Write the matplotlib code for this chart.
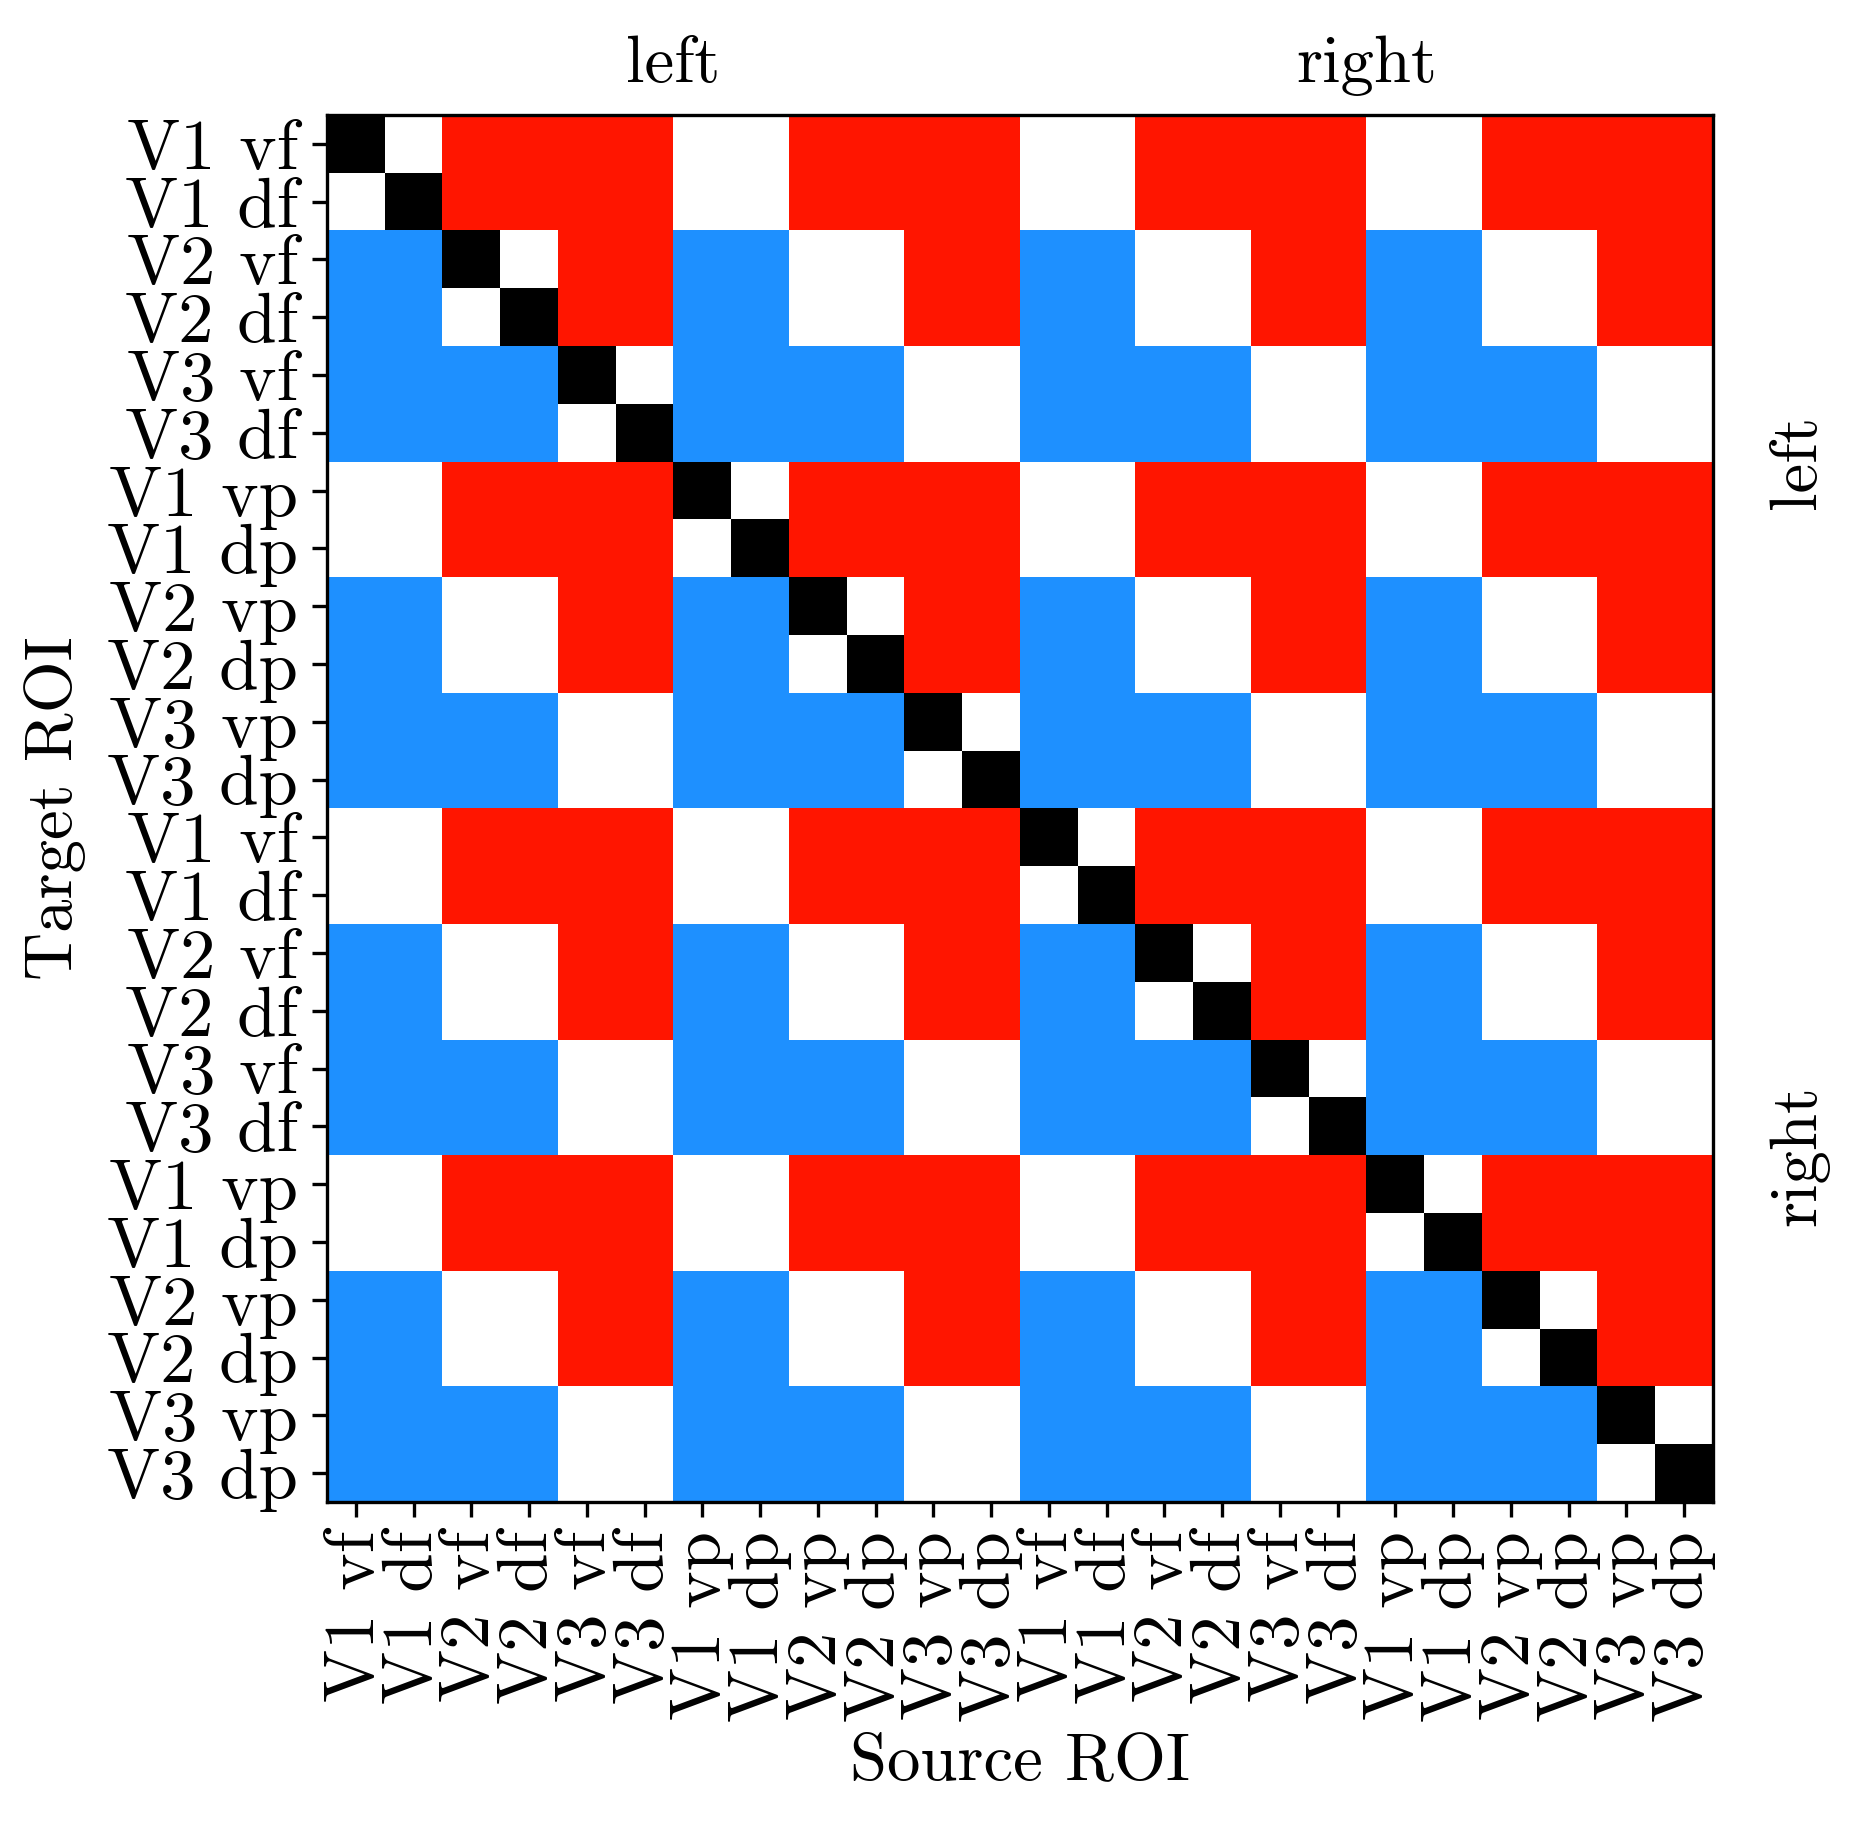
import numpy as np
import matplotlib
matplotlib.use('Agg')
import matplotlib.pyplot as plt
from matplotlib.colors import ListedColormap

plt.rcParams['font.family'] = 'serif'
plt.rcParams['font.serif'] = ['cmr10']
plt.rcParams['mathtext.fontset'] = 'cm'
plt.rcParams['axes.formatter.use_mathtext'] = True

roi_names = ['V1 vf', 'V1 df', 'V2 vf', 'V2 df', 'V3 vf', 'V3 df',
             'V1 vp', 'V1 dp', 'V2 vp', 'V2 dp', 'V3 vp', 'V3 dp']
tick_labels = roi_names + roi_names
hemis = ['left', 'right']

# K = self, W = same area, R = source higher, B = source lower
rows = [
    "KWRRRRWWRRRRWWRRRRWWRRRR",
    "WKRRRRWWRRRRWWRRRRWWRRRR",
    "BBKWRRBBWWRRBBWWRRBBWWRR",
    "BBWKRRBBWWRRBBWWRRBBWWRR",
    "BBBBKWBBBBWWBBBBWWBBBBWW",
    "BBBBWKBBBBWWBBBBWWBBBBWW",
    "WWRRRRKWRRRRWWRRRRWWRRRR",
    "WWRRRRWKRRRRWWRRRRWWRRRR",
    "BBWWRRBBKWRRBBWWRRBBWWRR",
    "BBWWRRBBWKRRBBWWRRBBWWRR",
    "BBBBWWBBBBKWBBBBWWBBBBWW",
    "BBBBWWBBBBWKBBBBWWBBBBWW",
    "WWRRRRWWRRRRKWRRRRWWRRRR",
    "WWRRRRWWRRRRWKRRRRWWRRRR",
    "BBWWRRBBWWRRBBKWRRBBWWRR",
    "BBWWRRBBWWRRBBWKRRBBWWRR",
    "BBBBWWBBBBWWBBBBKWBBBBWW",
    "BBBBWWBBBBWWBBBBWKBBBBWW",
    "WWRRRRWWRRRRWWRRRRKWRRRR",
    "WWRRRRWWRRRRWWRRRRWKRRRR",
    "BBWWRRBBWWRRBBWWRRBBKWRR",
    "BBWWRRBBWWRRBBWWRRBBWKRR",
    "BBBBWWBBBBWWBBBBWWBBBBKW",
    "BBBBWWBBBBWWBBBBWWBBBBWK",
]

code = {'B': 0, 'W': 1, 'R': 2, 'K': 3}
cmap = ListedColormap(['#1e90ff', '#ffffff', '#ff1500', '#000000'])
mat = np.array([[code[c] for c in r] for r in rows])

fig = plt.figure(figsize=(1867/300, 1829/300), dpi=300)
ax = fig.add_axes([327/1867, 327/1829, 1386/1867, 1387/1829])
ax.imshow(mat, cmap=cmap, vmin=-0.5, vmax=3.5, interpolation='nearest', aspect='auto')

n = len(tick_labels)
ax.set_xticks(np.arange(n))
ax.set_yticks(np.arange(n))
ax.set_xticklabels(tick_labels, rotation=90, fontsize=17)
ax.set_yticklabels(tick_labels, fontsize=17)
ax.set_xlabel('Source ROI', fontsize=16, labelpad=2.5)
ax.set_ylabel('Target ROI', fontsize=16, labelpad=5)

for i, h in enumerate(hemis):
    ax.text(0.25 + 0.5*i, 1.024, h, transform=ax.transAxes, fontsize=16,
            ha='center', va='baseline')
    ax.text(1.04, 0.75 - 0.5*i, h, transform=ax.transAxes, fontsize=16,
            ha='left', va='center', rotation=90)

fig.savefig('out.png', dpi=300)
